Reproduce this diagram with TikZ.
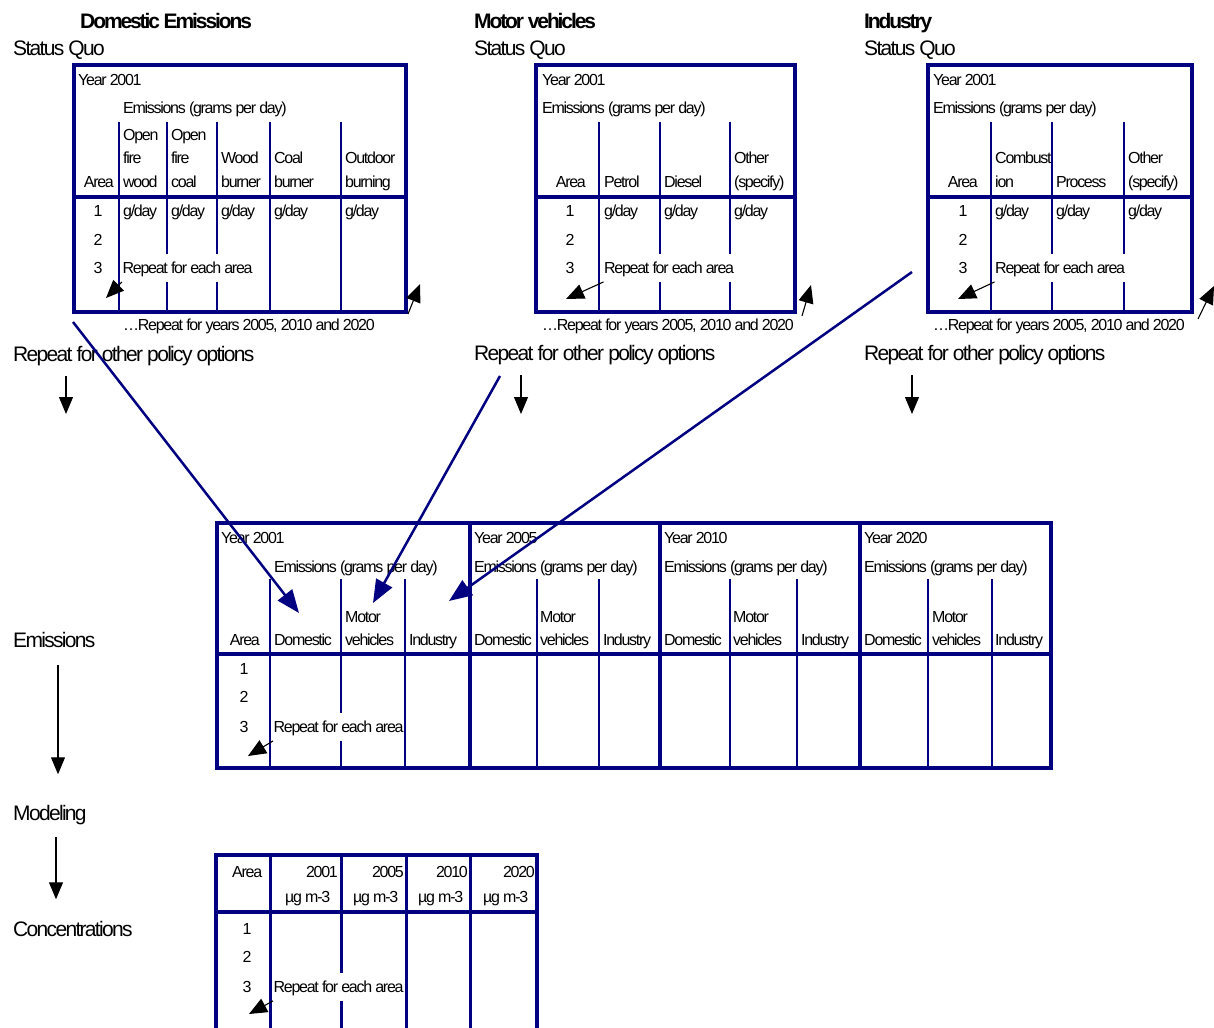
\documentclass[tikz,border=0pt]{standalone}
\usepackage{fontspec}
\setmainfont[LetterSpace=-8]{Liberation Sans}
\usetikzlibrary{arrows.meta}
\definecolor{tblue}{RGB}{0,0,128}

\tikzset{
  txt/.style={anchor=west, inner sep=0pt, text height=11.5pt, text depth=0pt, font=\fontsize{16}{18}\selectfont},
  bigtxt/.style={txt, text height=15.1pt, font=\fontsize{21}{24}\selectfont},
  hdtxt/.style={bigtxt, font=\fontsize{21}{24}\selectfont\bfseries\addfontfeature{LetterSpace=-10}},
  numtxt/.style={txt, anchor=center},
  reptxt/.style={txt, fill=white, inner xsep=0.5pt, inner ysep=8pt},
  frame/.style={tblue, line width=4pt},
  hline/.style={tblue, line width=3.5pt},
  col/.style={tblue, line width=2pt},
  note/.style={-{Triangle[length=18pt,width=15pt]}, line width=1.1pt},
  flow/.style={-{Triangle[length=17pt,width=14pt]}, line width=1.1pt},
  feed/.style={tblue, line width=2.5pt, -{Triangle[length=23pt,width=18pt]}},
}

\begin{document}
\begin{tikzpicture}[x=1pt,y=-1pt]
\useasboundingbox (0,0) rectangle (1214,1027);

% domestic emissions, status quo
\draw[frame] (74,65) rectangle (406,312);
\draw[hline] (74,197) -- (406,197);
\foreach \x in {119,167,217,270,341} \draw[col] (\x,122) -- (\x,312);
\node[hdtxt] (domTitle) at (80,21) {Domestic Emissions};
\node[bigtxt] (domSQ) at (13,48) {Status Quo};
\node[txt] (domYear) at (78,80) {Year 2001};
\node[txt] (domEmis) at (123,108) {Emissions (grams per day)};
\node[txt] (domOpenA) at (123,135) {Open};
\node[txt] (domFireA) at (123,158) {fire};
\node[txt] (domWoodA) at (123,182) {wood};
\node[txt] (domOpenB) at (171,135) {Open};
\node[txt] (domFireB) at (171,158) {fire};
\node[txt] (domCoalB) at (171,182) {coal};
\node[txt] (domWood) at (221,158) {Wood};
\node[txt] (domBurnA) at (221,182) {burner};
\node[txt] (domCoal) at (274,158) {Coal};
\node[txt] (domBurnB) at (274,182) {burner};
\node[txt] (domOut) at (345,158) {Outdoor};
\node[txt] (domBurning) at (345,182) {burning};
\node[txt, anchor=east] (domArea) at (114,182) {Area};
\foreach \n/\y in {1/211,2/240,3/268} \node[numtxt] (domRow\n) at (98,\y) {\n};
\foreach \x [count=\i] in {123,171,221,274,345} \node[txt] (domGd\i) at (\x,211) {g/day};
\node[reptxt] (domRep) at (122,268) {Repeat for each area};
\coordinate (domRepEnd) at (106,298);
\draw[note] (domRep.south west) -- (domRepEnd);
\node[txt] (domYrs) at (123,325) {…Repeat for years 2005, 2010 and 2020};
\coordinate (domYrsA) at (408,314);
\coordinate (domYrsB) at (420,284);
\draw[note] (domYrsA) -- (domYrsB);
\node[bigtxt] (domPol) at (13,354) {Repeat for other policy options};
\coordinate (domPolEnd) at (66,414);
\draw[flow, shorten <=14pt] (domPol.south -| domPolEnd) -- (domPolEnd);

% motor vehicles, status quo
\draw[frame] (536,65) rectangle (795,312);
\draw[hline] (536,197) -- (795,197);
\foreach \x in {599,660,730} \draw[col] (\x,122) -- (\x,312);
\node[hdtxt] (motTitle) at (474,21) {Motor vehicles};
\node[bigtxt] (motSQ) at (474,48) {Status Quo};
\node[txt] (motYear) at (542,80) {Year 2001};
\node[txt] (motEmis) at (542,108) {Emissions (grams per day)};
\node[txt, anchor=east] (motArea) at (586,182) {Area};
\node[txt] (motPetrol) at (604,182) {Petrol};
\node[txt] (motDiesel) at (664,182) {Diesel};
\node[txt] (motOther) at (734,158) {Other};
\node[txt] (motSpec) at (734,182) {(specify)};
\foreach \n/\y in {1/211,2/240,3/268} \node[numtxt] (motRow\n) at (570,\y) {\n};
\foreach \x [count=\i] in {604,664,734} \node[txt] (motGd\i) at (\x,211) {g/day};
\node[reptxt] (motRep) at (603.5,268) {Repeat for each area};
\coordinate (motRepEnd) at (566,299);
\draw[note] (motRep.south west) -- (motRepEnd);
\node[txt] (motYrs) at (542,325) {…Repeat for years 2005, 2010 and 2020};
\coordinate (motYrsA) at (802,316);
\coordinate (motYrsB) at (811,285);
\draw[note] (motYrsA) -- (motYrsB);
\node[bigtxt] (motPol) at (474,353) {Repeat for other policy options};
\coordinate (motPolEnd) at (521,414);
\draw[flow, shorten <=14pt] (motPol.south -| motPolEnd) -- (motPolEnd);

% industry, status quo
\draw[frame] (928,65) rectangle (1192,312);
\draw[hline] (928,197) -- (1192,197);
\foreach \x in {991,1052,1124} \draw[col] (\x,122) -- (\x,312);
\node[hdtxt] (indTitle) at (864,21) {Industry};
\node[bigtxt] (indSQ) at (864,48) {Status Quo};
\node[txt] (indYear) at (933,80) {Year 2001};
\node[txt] (indEmis) at (933,108) {Emissions (grams per day)};
\node[txt, anchor=east] (indArea) at (978,182) {Area};
\node[txt] (indCombA) at (995,158) {Combust};
\node[txt] (indCombB) at (995,182) {ion};
\node[txt] (indProc) at (1056,182) {Process};
\node[txt] (indOther) at (1128,158) {Other};
\node[txt] (indSpec) at (1128,182) {(specify)};
\foreach \n/\y in {1/211,2/240,3/268} \node[numtxt] (indRow\n) at (963,\y) {\n};
\foreach \x [count=\i] in {995,1056,1128} \node[txt] (indGd\i) at (\x,211) {g/day};
\node[reptxt] (indRep) at (994.5,268) {Repeat for each area};
\coordinate (indRepEnd) at (958,299);
\draw[note] (indRep.south west) -- (indRepEnd);
\node[txt] (indYrs) at (933,325) {…Repeat for years 2005, 2010 and 2020};
\coordinate (indYrsA) at (1198,319);
\coordinate (indYrsB) at (1214,286);
\draw[note] (indYrsA) -- (indYrsB);
\node[bigtxt] (indPol) at (864,353) {Repeat for other policy options};
\coordinate (indPolEnd) at (912,414);
\draw[flow, shorten <=14pt] (indPol.south -| indPolEnd) -- (indPolEnd);

% emissions by year
\draw[frame] (217,523) rectangle (1051,768);
\draw[hline] (217,654) -- (1051,654);
\foreach \x in {470,660,860} \draw[frame] (\x,523) -- (\x,768);
\foreach \x in {270,341,405,537,599,730,797,928,992} \draw[col] (\x,579) -- (\x,768);
\foreach \yx/\ex/\yr/\dx/\mx/\ix [count=\k] in
  {221/274/2001/274/345/409, 474/474/2005/474/540/603,
   664/664/2010/664/733/801, 864/864/2020/864/932/995} {
  \node[txt] (emYear\k) at (\yx,538) {Year \yr};
  \node[txt] (emEmis\k) at (\ex,567) {Emissions (grams per day)};
  \node[txt] (emDom\k) at (\dx,640) {Domestic};
  \node[txt] (emMotA\k) at (\mx,617) {Motor};
  \node[txt] (emMotB\k) at (\mx,640) {vehicles};
  \node[txt] (emInd\k) at (\ix,640) {Industry};
}
\node[txt, anchor=east] (emArea) at (260,640) {Area};
\foreach \n/\y in {1/669,2/697,3/727} \node[numtxt] (emRow\n) at (244,\y) {\n};
\node[reptxt] (emRep) at (273,727) {Repeat for each area};
\coordinate (emRepEnd) at (248,756);
\draw[note] (emRep.south west) -- (emRepEnd);

% concentrations
\draw[frame] (216,1035) -- (216,855) -- (537,855) -- (537,1035);
\draw[hline] (216,912) -- (537,912);
\foreach \x in {270,341,406,470} \draw[col, line width=3pt] (\x,855) -- (\x,1035);
\node[txt] (coArea) at (232,872) {Area};
\foreach \yr/\x/\u [count=\k] in {2001/338/285, 2005/404/353, 2010/468/418, 2020/535/483} {
  \node[txt, anchor=east] (coYr\k) at (\x,872) {\yr};
  \node[txt] (coUnit\k) at (\u,897) {µg m-3};
}
\foreach \n/\y in {1/929,2/957,3/987} \node[numtxt] (coRow\n) at (247,\y) {\n};
\node[reptxt] (coRep) at (273,987) {Repeat for each area};
\coordinate (coRepEnd) at (249,1014);
\draw[note] (coRep.south west) -- (coRepEnd);

% left hand flow
\node[bigtxt] (lblEmis) at (13,640) {Emissions};
\node[bigtxt] (lblModel) at (13,813) {Modeling};
\node[bigtxt] (lblConc) at (13,929) {Concentrations};
\coordinate (flowA) at (58,0);
\coordinate (flowB) at (56,0);
\draw[flow, shorten <=17pt, shorten >=31pt] (lblEmis.south -| flowA) -- (lblModel.north -| flowA);
\draw[flow, shorten <=16pt, shorten >=22pt] (lblModel.south -| flowB) -- (lblConc.north -| flowB);

% sources into the emissions table
\coordinate (domFeed) at (73,322);
\coordinate (domCell) at (299,613);
\coordinate (motFeed) at (500,376);
\coordinate (motCell) at (373,603);
\coordinate (indFeed) at (912,272);
\coordinate (indCell) at (449,601);
\draw[feed] (domFeed) -- (domCell);
\draw[feed] (motFeed) -- (motCell);
\draw[feed] (indFeed) -- (indCell);
\end{tikzpicture}
\end{document}
